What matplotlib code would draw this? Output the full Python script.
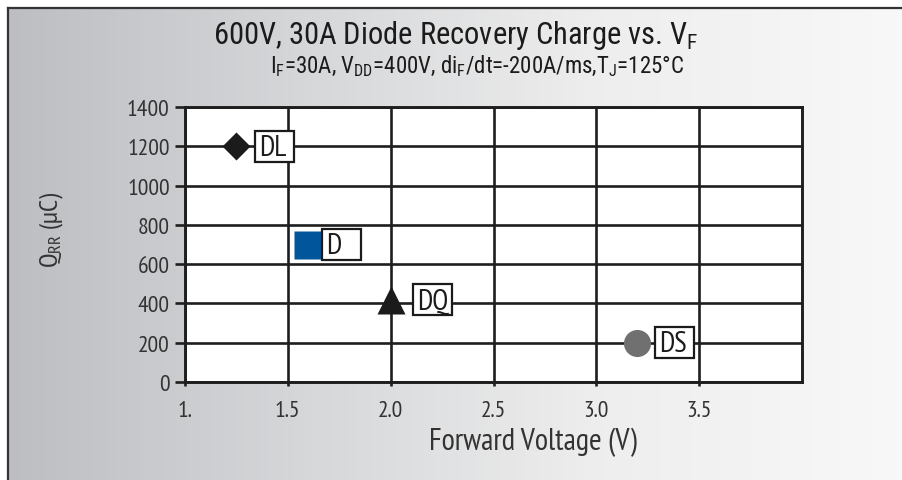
import numpy as np
import matplotlib
matplotlib.use('Agg')
import matplotlib.pyplot as plt
import matplotlib.colors as mcolors
from matplotlib.patches import Rectangle
from matplotlib.lines import Line2D
from matplotlib.transforms import ScaledTranslation

# --------------------------
# Data
# --------------------------
diode_names = ['DL', 'D', 'DQ', 'DS']
forward_voltage = [1.25, 1.6, 2.0, 3.2]      # V
recovery_charge = [1200, 700, 420, 200]      # uC

x_ticks = [1.0, 1.5, 2.0, 2.5, 3.0, 3.5]
x_tick_labels = ['1.', '1.5', '2.0', '2.5', '3.0', '3.5']
y_ticks = [0, 200, 400, 600, 800, 1000, 1200, 1400]

# styles
marker_shapes = ['D', 's', '^', 'o']
marker_sizes = [14.5, 19.5, 20, 19.5]
marker_colors = ['#1b1b1b', '#00559b', '#1b1b1b', '#707070']
label_dx = [19, 14, 22, 18]   # px from marker centre to box left edge

title_font = ['Roboto Condensed', 'Liberation Sans', 'DejaVu Sans']
body_font = ['PT Sans Narrow', 'DejaVu Sans']
plt.rcParams['mathtext.fontset'] = 'custom'

W, H = 902, 481
fig = plt.figure(figsize=(W / 100, H / 100), dpi=100)
fig.patch.set_facecolor('white')

# gradient background panel
bg = fig.add_axes([8 / W, 0, 1 - 8 / W, 1 - 9 / H], zorder=-10)
cmap = mcolors.LinearSegmentedColormap.from_list('bg', ['#bdbec2', '#d6d7d9', '#eeeeee', '#f8f8f8'])
grad = np.linspace(0, 1, 256).reshape(1, -1)
bg.imshow(grad, aspect='auto', cmap=cmap, extent=[0, 1, 0, 1])
bg.set_axis_off()

# border lines (top and left)
fig.add_artist(Line2D([8 / W, 1], [1 - 9 / H, 1 - 9 / H], color='#333333', lw=1.6))
fig.add_artist(Line2D([8 / W, 8 / W], [0, 1 - 9 / H], color='#333333', lw=1.6))

ax = fig.add_axes([185 / W, 1 - 383 / H, (802 - 185) / W, (383 - 108) / H])
ax.set_facecolor('white')
ax.set_xlim(1, 4)
ax.set_ylim(0, 1400)
ax.set_xticks(x_ticks)
ax.set_xticklabels(x_tick_labels, family=body_font, fontsize=17, color='#333333')
ax.set_yticks(y_ticks)
ax.set_yticklabels([str(v) for v in y_ticks], family=body_font, fontsize=17, color='#333333')
ax.tick_params(axis='y', length=7, width=1.9, pad=4, color='#1e1e1e')
ax.tick_params(axis='x', length=3, width=1.9, pad=10, color='#1e1e1e')
ax.grid(True, color='#1e1e1e', linewidth=1.9)
ax.set_axisbelow(True)
for s in ax.spines.values():
    s.set_linewidth(2.1)
    s.set_color('#1e1e1e')

for i, name in enumerate(diode_names):
    ax.plot(forward_voltage[i], recovery_charge[i], marker=marker_shapes[i], ms=marker_sizes[i],
            color=marker_colors[i], mec='none', linestyle='none', zorder=5, clip_on=False)
    trans = fig.dpi_scale_trans + ScaledTranslation(forward_voltage[i], recovery_charge[i], ax.transData)
    ax.add_patch(Rectangle((label_dx[i] / 100, -0.155), 0.39, 0.31, transform=trans,
                           facecolor='white', edgecolor='#1b1b1b', lw=1.6, zorder=6, clip_on=False))
    ax.text((label_dx[i] + 4) / 100, -0.01, name, transform=trans, ha='left', va='center',
            family=body_font, fontsize=21, color='#1b1b1b', zorder=7)

ax.set_xlabel('Forward Voltage (V)', family=body_font, fontsize=22, color='#333333',
              labelpad=4, x=(533 - 185) / (802 - 185))
fig.text(52 / W, 1 - 230 / H, r'$\mathregular{Q_{RR}}$ (µC)', rotation=90, ha='center', va='center',
         family=body_font, fontsize=19, color='#333333')

fig.text(456 / W, 1 - 35 / H, r'600V, 30A Diode Recovery Charge vs. $\mathregular{V_F}$',
         ha='center', va='center', family=title_font, fontsize=22, color='#1b1b1b')
fig.text(477 / W, 1 - 66 / H,
         r'$\mathregular{I_F}$=30A, $\mathregular{V_{DD}}$=400V, $\mathregular{di_F}$/dt=-200A/ms,$\mathregular{T_J}$=125°C',
         ha='center', va='center', family=title_font, fontsize=16.5, color='#1b1b1b')

fig.savefig('out.png', dpi=100)
